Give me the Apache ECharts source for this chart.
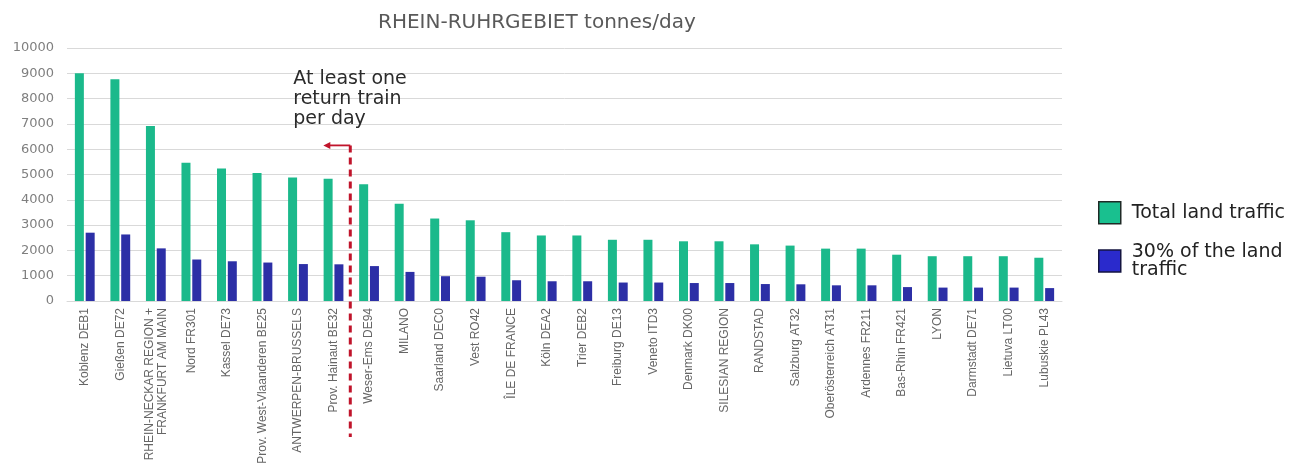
<!DOCTYPE html>
<html>
<head>
<meta charset="utf-8">
<script src="https://cdn.jsdelivr.net/npm/echarts@6/dist/echarts.min.js"></script>
<style>
html,body{margin:0;padding:0;background:#fff;}
#c{width:1308px;height:475px;}
</style>
</head>
<body>
<div id="c"></div>
<script>
const titleText = 'RHEIN-RUHRGEBIET tonnes/day';
const categories = [
  'Koblenz DEB1', 'Gießen DE72', 'RHEIN-NECKAR REGION +\nFRANKFURT AM MAIN', 'Nord FR301', 'Kassel DE73',
  'Prov. West-Vlaanderen BE25', 'ANTWERPEN-BRUSSELS', 'Prov. Hainaut BE32', 'Weser-Ems DE94', 'MILANO',
  'Saarland DEC0', 'Vest RO42', 'ÎLE DE FRANCE', 'Köln DEA2', 'Trier DEB2',
  'Freiburg DE13', 'Veneto ITD3', 'Denmark DK00', 'SILESIAN REGION', 'RANDSTAD',
  'Salzburg AT32', 'Oberösterreich AT31', 'Ardennes FR211', 'Bas-Rhin FR421', 'LYON',
  'Darmstadt DE71', 'Lietuva LT00', 'Lubuskie PL43'
];
const seriesNames = ['Total land traffic', '30% of the land\ntraffic'];
const totalTraffic = [9000, 8760, 6920, 5460, 5240, 5060, 4880, 4830, 4610, 3840, 3260, 3190, 2720, 2590, 2590, 2420, 2420, 2360, 2360, 2240, 2190, 2070, 2070, 1830, 1770, 1770, 1770, 1710];
const share30 = [2700, 2630, 2080, 1640, 1570, 1520, 1460, 1450, 1380, 1150, 980, 960, 820, 780, 780, 730, 730, 710, 710, 670, 660, 620, 620, 550, 530, 530, 530, 510];
const yTicks = {min: 0, max: 10000, interval: 1000};
const annotationText = 'At least one\nreturn train\nper day';
const thresholdAfterIndex = 7;   // line drawn between Prov. Hainaut and Weser-Ems
const arrowValue = 6150;

const chart = echarts.init(document.getElementById('c'), null, {renderer: 'canvas'});
const option = {
  animation: false,
  backgroundColor: '#ffffff',
  title: {
    text: titleText,
    left: 373, top: 8,
    textStyle: {fontFamily: 'DejaVu Sans', fontSize: 20, fontWeight: 'normal', color: '#595959'}
  },
  grid: {left: 67, right: 246, top: 48, bottom: 174, containLabel: false},
  legend: {
    orient: 'vertical',
    left: 1093, top: 196,
    itemWidth: 22, itemHeight: 22, itemGap: 10.5,
    icon: 'rect',
    textStyle: {fontFamily: 'DejaVu Sans', fontSize: 19, color: '#222', lineHeight: 18, padding: [0, 0, 0, 6]},
    data: [
      {name: seriesNames[0], itemStyle: {color: '#19C08F', borderColor: '#1f2a26', borderWidth: 1.5}},
      {name: seriesNames[1], itemStyle: {color: '#2A2ACC', borderColor: '#141440', borderWidth: 1.5},
       textStyle: {padding: [16, 0, 0, 6]}}
    ]
  },
  xAxis: {
    type: 'category',
    data: categories,
    axisLine: {show: true, lineStyle: {color: '#d9d9d9', width: 1}},
    axisTick: {show: false},
    axisLabel: {
      interval: 0, rotate: 90, margin: 7,
      fontFamily: 'Liberation Sans', fontSize: 12, color: '#666', lineHeight: 13
    }
  },
  yAxis: {
    type: 'value',
    min: yTicks.min, max: yTicks.max, interval: yTicks.interval,
    axisLine: {show: false},
    axisTick: {show: false},
    splitLine: {lineStyle: {color: '#d9d9d9', width: 1}},
    axisLabel: {margin: 13, fontFamily: 'DejaVu Sans', fontSize: 13, color: '#7f7f7f',
      formatter: function (v) { return String(v); }}
  },
  series: [
    {name: seriesNames[0], type: 'bar', data: totalTraffic, barWidth: 9, barGap: '20%',
     itemStyle: {color: '#1BB98B'}},
    {name: seriesNames[1], type: 'bar', data: share30, barWidth: 9,
     itemStyle: {color: '#2C2FA6'}}
  ]
};
chart.setOption(option);

function drawAnnotation() {
  const xa = chart.convertToPixel({xAxisIndex: 0}, thresholdAfterIndex);
  const xb = chart.convertToPixel({xAxisIndex: 0}, thresholdAfterIndex + 1);
  const xm = (xa + xb) / 2 - 1;
  const yTop = chart.convertToPixel({yAxisIndex: 0}, arrowValue);
  const y0 = chart.convertToPixel({yAxisIndex: 0}, 0);
  const yBottom = y0 + 136;
  const red = '#C0142B';
  chart.setOption({
    graphic: [
      {type: 'line', z: 100, shape: {x1: xm, y1: yTop, x2: xm, y2: yBottom},
       style: {stroke: red, lineWidth: 3, lineDash: [7, 5]}},
      {type: 'line', z: 100, shape: {x1: xm, y1: yTop, x2: xm - 22, y2: yTop},
       style: {stroke: red, lineWidth: 1.8}},
      {type: 'polygon', z: 100, shape: {points: [[xm - 27, yTop], [xm - 20, yTop - 3.5], [xm - 20, yTop + 3.5]]},
       style: {fill: red}},
      {type: 'text', z: 100, left: xm - 57, top: yTop - 76,
       style: {text: annotationText, font: '19px "DejaVu Sans"', fill: '#2b2b2b', lineHeight: 20}}
    ]
  });
}
drawAnnotation();
</script>
</body>
</html>
